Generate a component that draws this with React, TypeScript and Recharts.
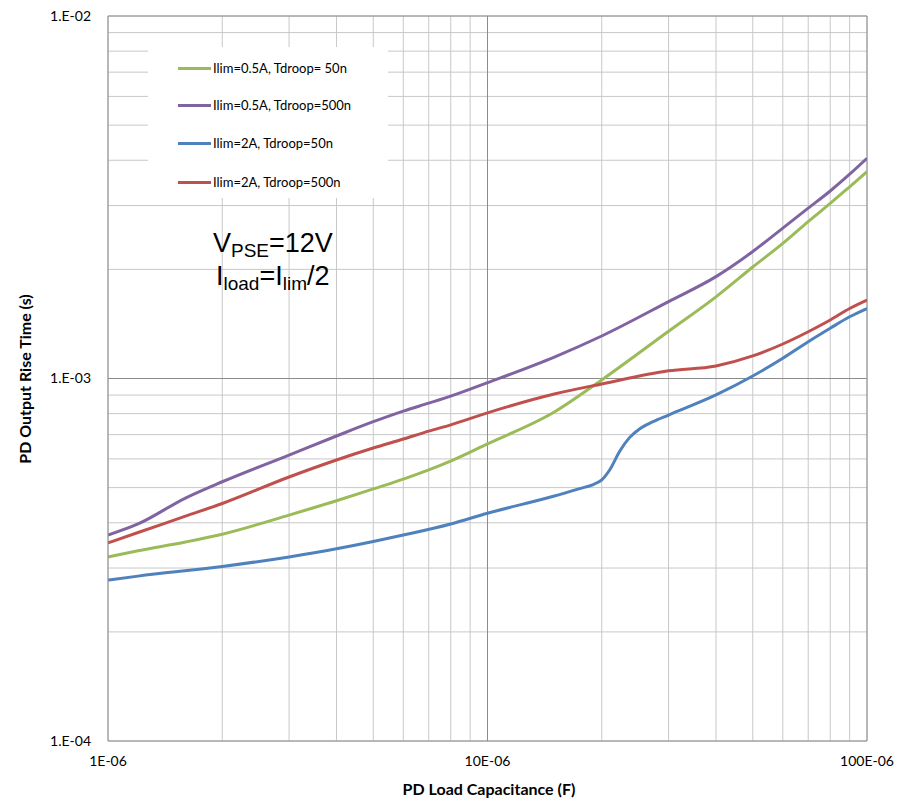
import {
  CartesianGrid,
  Legend,
  Line,
  LineChart,
  ReferenceLine,
  XAxis,
  YAxis,
} from "recharts";

// capacitance in uF, rise time in s
const capUF = [1, 1.2, 1.6, 2, 3, 4, 5, 6, 7, 8, 10, 15, 20, 30, 40, 50, 60, 70, 80, 90, 100];
const riseGreen = [
  3.22e-4, 3.35e-4, 3.54e-4, 3.72e-4, 4.2e-4, 4.6e-4, 4.96e-4, 5.28e-4, 5.6e-4, 5.92e-4,
  6.6e-4, 8.08e-4, 9.91e-4, 1.35e-3, 1.68e-3, 2.03e-3, 2.36e-3, 2.71e-3, 3.04e-3, 3.38e-3, 3.72e-3,
];
const risePurple = [
  3.7e-4, 3.97e-4, 4.68e-4, 5.19e-4, 6.15e-4, 6.94e-4, 7.6e-4, 8.13e-4, 8.55e-4, 8.94e-4,
  9.74e-4, 1.146e-3, 1.31e-3, 1.63e-3, 1.91e-3, 2.24e-3, 2.6e-3, 2.95e-3, 3.29e-3, 3.66e-3, 4.05e-3,
];
const riseRed = [
  3.52e-4, 3.76e-4, 4.17e-4, 4.52e-4, 5.35e-4, 5.96e-4, 6.43e-4, 6.81e-4, 7.16e-4, 7.45e-4,
  8.04e-4, 9.06e-4, 9.66e-4, 1.05e-3, 1.083e-3, 1.154e-3, 1.245e-3, 1.346e-3, 1.45e-3, 1.56e-3, 1.646e-3,
];
const capBlueUF = [
  1, 1.2, 2, 3, 4, 5, 6, 8, 10, 15, 17.5, 19, 20, 21, 22.3, 23.7, 25.2, 27.3, 30, 40, 50, 60, 70, 80, 90, 100,
];
const riseBlue = [
  2.78e-4, 2.85e-4, 3.03e-4, 3.22e-4, 3.39e-4, 3.55e-4, 3.7e-4, 3.97e-4, 4.25e-4, 4.74e-4, 4.97e-4,
  5.1e-4, 5.25e-4, 5.6e-4, 6.3e-4, 6.88e-4, 7.27e-4, 7.6e-4, 7.93e-4, 9.01e-4, 1.016e-3, 1.137e-3,
  1.263e-3, 1.376e-3, 1.48e-3, 1.56e-3,
];

const xTicks = [
  1e-6, 2e-6, 3e-6, 4e-6, 5e-6, 6e-6, 7e-6, 8e-6, 9e-6, 1e-5, 2e-5, 3e-5, 4e-5, 5e-5, 6e-5, 7e-5, 8e-5,
  9e-5, 1e-4,
];
const yTicks = [
  1e-4, 2e-4, 3e-4, 4e-4, 5e-4, 6e-4, 7e-4, 8e-4, 9e-4, 1e-3, 2e-3, 3e-3, 4e-3, 5e-3, 6e-3, 7e-3, 8e-3,
  9e-3, 1e-2,
];
const xTickLabels = new Map([
  [1e-6, "1E-06"],
  [1e-5, "10E-06"],
  [1e-4, "100E-06"],
]);
const yTickLabels = new Map([
  [1e-4, "1.E-04"],
  [1e-3, "1.E-03"],
  [1e-2, "1.E-02"],
]);

const series = [
  { name: "Ilim=0.5A, Tdroop= 50n", color: "#9BBB59", caps: capUF, rise: riseGreen },
  { name: "Ilim=0.5A, Tdroop=500n", color: "#8064A2", caps: capUF, rise: risePurple },
  { name: "Ilim=2A, Tdroop=50n", color: "#4F81BD", caps: capBlueUF, rise: riseBlue },
  { name: "Ilim=2A, Tdroop=500n", color: "#C0504D", caps: capUF, rise: riseRed },
];

const W = 898;
const H = 790;
const FONT = "Lato, 'Open Sans', sans-serif";
const MAJOR = "#8c8c8c";
const MINOR = "#c8c8c8";

function LegendBox() {
  const rows = [21, 58, 96, 135];
  return (
    <div style={{ position: "relative", width: 240, height: 151, background: "#fff" }}>
      {series.map((s, i) => (
        <div
          key={s.name}
          style={{
            position: "absolute",
            left: 30,
            top: rows[i] - 9,
            height: 18,
            display: "flex",
            alignItems: "center",
            whiteSpace: "nowrap",
            fontFamily: FONT,
            fontSize: 13,
            color: "#000",
          }}
        >
          <span style={{ width: 33, height: 3, background: s.color, marginRight: 2 }} />
          {s.name}
        </div>
      ))}
    </div>
  );
}

export default function App() {
  return (
    <div style={{ position: "relative", width: W, height: H }}>
      <LineChart width={W} height={H} margin={{ top: 8, right: 39, left: 0, bottom: 0 }}>
        <CartesianGrid stroke={MINOR} strokeWidth={1} />
        <XAxis
          dataKey="c"
          type="number"
          scale="log"
          domain={[1e-6, 1e-4]}
          allowDataOverflow
          ticks={xTicks}
          interval={0}
          height={57}
          tickSize={0}
          tickMargin={15}
          tickFormatter={(v: number) => xTickLabels.get(v) ?? ""}
          tick={{ fill: "#000", fontSize: 14, fontFamily: FONT }}
          axisLine={{ stroke: MAJOR }}
          tickLine={false}
        />
        <YAxis
          type="number"
          scale="log"
          domain={[1e-4, 1e-2]}
          allowDataOverflow
          ticks={yTicks}
          interval={0}
          width={100}
          tickSize={0}
          tickMargin={17}
          tickFormatter={(v: number) => yTickLabels.get(v) ?? ""}
          tick={{ fill: "#000", fontSize: 14, fontFamily: FONT }}
          axisLine={{ stroke: MAJOR }}
          tickLine={false}
        />
        <ReferenceLine x={1e-5} stroke={MAJOR} />
        <ReferenceLine y={1e-3} stroke={MAJOR} />
        <ReferenceLine y={1e-2} stroke={MAJOR} />
        <ReferenceLine x={1e-4} stroke={MAJOR} />
        <Legend
          layout="vertical"
          align="center"
          verticalAlign="middle"
          wrapperStyle={{ left: 140, top: 39, width: 240, height: 151 }}
          content={() => <LegendBox />}
        />
        {series.map((s) => (
          <Line
            key={s.name}
            name={s.name}
            data={s.caps.map((c, i) => ({ c: c * 1e-6, t: s.rise[i] }))}
            dataKey="t"
            type="monotone"
            stroke={s.color}
            strokeWidth={3}
            dot={false}
            activeDot={false}
            isAnimationActive={false}
          />
        ))}
      </LineChart>
      <svg
        width={W}
        height={H}
        style={{ position: "absolute", left: 0, top: 0, pointerEvents: "none" }}
      >
        <text x={205} y={244} fontFamily="'Liberation Sans', Arial, sans-serif" fontSize={27}>
          V
          <tspan fontSize={19} dy={5}>
            PSE
          </tspan>
          <tspan dy={-5}>=12V</tspan>
        </text>
        <text x={208} y={277} fontFamily="'Liberation Sans', Arial, sans-serif" fontSize={27}>
          I
          <tspan fontSize={19} dy={5}>
            load
          </tspan>
          <tspan dy={-5}>=I</tspan>
          <tspan fontSize={19} dy={5}>
            lim
          </tspan>
          <tspan dy={-5}>/2</tspan>
        </text>
        <text
          x={16}
          y={371}
          transform="rotate(-90 16 371)"
          textAnchor="middle"
          dominantBaseline="central"
          fontFamily={FONT}
          fontWeight="bold"
          fontSize={16}
        >
          PD Output Rise Time (s)
        </text>
        <text x={481} y={787} textAnchor="middle" fontFamily={FONT} fontWeight="bold" fontSize={16}>
          PD Load Capacitance (F)
        </text>
      </svg>
    </div>
  );
}
